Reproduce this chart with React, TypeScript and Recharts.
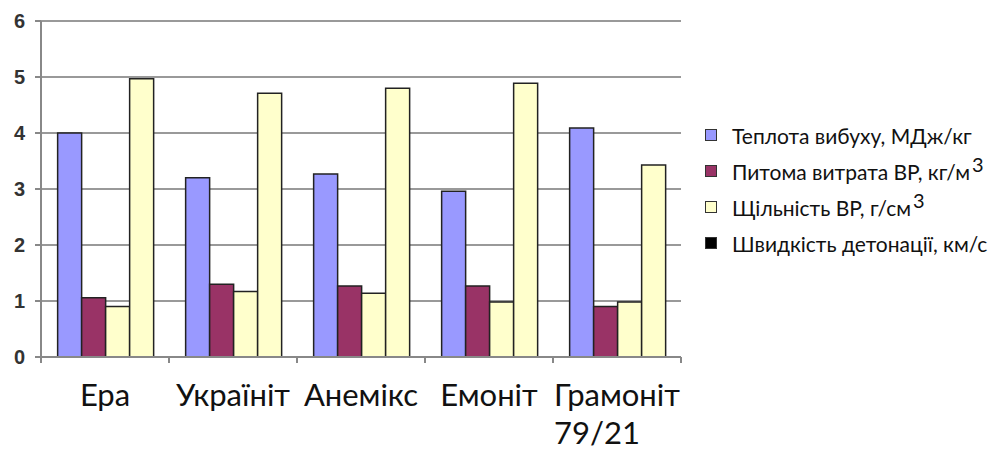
import React from "react";
import { BarChart, Bar, XAxis, YAxis, CartesianGrid } from "recharts";

const categories = ["Ера", "Україніт", "Анемікс", "Емоніт", "Грамоніт 79/21"];
const heat = [4.0, 3.2, 3.27, 2.96, 4.09];
const consumption = [1.06, 1.3, 1.27, 1.27, 0.9];
const density = [0.9, 1.17, 1.14, 0.98, 0.98];
const velocity = [4.97, 4.71, 4.8, 4.89, 3.43];
const yTicks = [0, 1, 2, 3, 4, 5, 6];

const seriesNames = [
  "Теплота вибуху, МДж/кг",
  "Питома витрата ВР, кг/м",
  "Щільність ВР, г/см",
  "Швидкість детонації, км/с",
];
const seriesSup = ["", "3", "3", ""];
const barColors = ["#9999FF", "#993366", "#FFFFCC", "#FFFFCC"];
const legendColors = ["#9999FF", "#993366", "#FFFFCC", "#000000"];
const keys = ["heat", "consumption", "density", "velocity"];

const data = categories.map((c, i) => ({
  name: c,
  heat: heat[i],
  consumption: consumption[i],
  density: density[i],
  velocity: velocity[i],
}));

const LABEL_FONT = "Lato, 'Open Sans', sans-serif";

let canvasCtx: CanvasRenderingContext2D | null = null;
function measure(text: string, font: string): number {
  if (!canvasCtx) {
    const c = document.createElement("canvas");
    canvasCtx = c.getContext("2d");
  }
  if (!canvasCtx) return text.length * 15;
  canvasCtx.font = font;
  return canvasCtx.measureText(text).width;
}

const XTick = (props: any) => {
  const { x, y, payload, index } = props;
  const off = payload.offset || 0;
  const words = String(payload.value).split(" ");
  const lines = words.length > 1 ? [words[0], words.slice(1).join(" ")] : words;
  const fontSize = 31;
  const w = measure(lines[0], `${fontSize}px Lato`);
  const isLast = index === categories.length - 1;
  return (
    <g>
      <line x1={x - off} x2={x - off} y1={y - 8} y2={y - 2} stroke="#888" strokeWidth={2} />
      {isLast && (
        <line x1={x + off} x2={x + off} y1={y - 8} y2={y - 2} stroke="#888" strokeWidth={2} />
      )}
      {lines.length === 1 ? (
        <text x={x} y={y + 41} textAnchor="middle" fontSize={fontSize} fontFamily={LABEL_FONT} fill="#111">
          {lines[0]}
        </text>
      ) : (
        <text x={x - w / 2} y={y + 41} textAnchor="start" fontSize={fontSize} fontFamily={LABEL_FONT} fill="#111">
          {lines.map((l, k) => (
            <tspan key={k} x={x - w / 2} dy={k === 0 ? 0 : 38}>
              {l}
            </tspan>
          ))}
        </text>
      )}
    </g>
  );
};

const LegendBox = () => (
  <div
    style={{
      position: "absolute",
      left: 705,
      top: 117,
      fontFamily: LABEL_FONT,
      fontSize: 21,
      color: "#111",
    }}
  >
    {seriesNames.map((n, i) => (
      <div key={i} style={{ display: "flex", alignItems: "center", height: 36, whiteSpace: "nowrap" }}>
        <span
          style={{
            display: "inline-block",
            width: 10,
            height: 10,
            background: legendColors[i],
            border: "1.5px solid #333",
            marginRight: 15,
          }}
        />
        <span>
          {n}
          {seriesSup[i] && (
            <span style={{ position: "relative", top: -8, fontSize: 20, marginLeft: 2 }}>{seriesSup[i]}</span>
          )}
        </span>
      </div>
    ))}
  </div>
);

export default function App() {
  return (
    <div style={{ position: "absolute", left: 0, top: 0, width: 1003, height: 453, background: "#fff" }}>
      <BarChart
        width={1003}
        height={453}
        data={data}
        margin={{ top: 21, right: 322, bottom: 0, left: 0 }}
        barCategoryGap="13%"
        barGap={0}
      >
        <CartesianGrid vertical={false} stroke="#999" strokeWidth={2} />
        <XAxis
          dataKey="name"
          tick={<XTick />}
          tickLine={false}
          axisLine={{ stroke: "#888", strokeWidth: 2 }}
          interval={0}
          height={96}
        />
        <YAxis
          domain={[0, 6]}
          ticks={yTicks}
          interval={0}
          width={41}
          tickSize={6}
          tickMargin={10}
          tickLine={{ stroke: "#888", strokeWidth: 2 }}
          axisLine={{ stroke: "#888", strokeWidth: 2 }}
          tick={{ fontSize: 20, fontWeight: "bold", fontFamily: "'Liberation Sans', Arial, sans-serif", fill: "#333" }}
        />
        {keys.map((k, i) => (
          <Bar
            key={k}
            dataKey={k}
            name={seriesNames[i]}
            fill={barColors[i]}
            stroke="#222"
            strokeWidth={1.5}
            isAnimationActive={false}
          />
        ))}
      </BarChart>
      <LegendBox />
    </div>
  );
}
